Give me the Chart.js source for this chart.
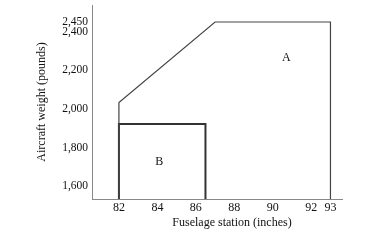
<!DOCTYPE html>
<html>
<head>
<meta charset="utf-8">
<script src="https://cdn.jsdelivr.net/npm/chart.js@4/dist/chart.umd.min.js"></script>
<style>
html, body { margin: 0; padding: 0; background: #fff; }
#wrap { width: 387px; height: 245px; }
</style>
</head>
<body>
<div id="wrap"><canvas id="chart"></canvas></div>
<script>
const xTicks = [82, 84, 86, 88, 90, 92, 93]
const yTicks = [1600, 1800, 2000, 2200, 2400, 2450]

// envelope outlines (station, weight)
const envA = [
    { x: 82, y: 1534 }, { x: 82, y: 2033 }, { x: 87, y: 2450 }, { x: 93, y: 2450 }, { x: 93, y: 1534 }
]
const envB = [
    { x: 82, y: 1534 }, { x: 82, y: 1922 }, { x: 86.5, y: 1922 }, { x: 86.5, y: 1534 }
]

const areaNames = ['A', 'B']
const areaX = [90.7, 84.1]
const areaY = [2262, 1726]

const serif = '"Liberation Serif", "Times New Roman", serif'

const labels = {
    id: 'labels',
    afterDatasetsDraw(chart) {
        const { ctx, chartArea, scales: { x, y } } = chart
        ctx.save()
        ctx.fillStyle = '#111'
        ctx.font = '12px ' + serif
        ctx.textAlign = 'center'
        ctx.textBaseline = 'middle'
        areaNames.forEach((t, i) => {
            ctx.fillText(t, x.getPixelForValue(areaX[i]), y.getPixelForValue(areaY[i]))
        })
        // x axis title sits a bit right of the plot centre in the original
        ctx.fillText('Fuselage station (inches)', (chartArea.left + chartArea.right) / 2 + 15, 223)
        ctx.restore()
    }
}

new Chart(document.getElementById('chart'), {
    type: 'line',
    data: {
        datasets: [{
            label: 'A',
            data: envA,
            borderColor: '#444',
            borderWidth: 1.2,
            pointRadius: 0,
            fill: false,
            clip: false
        }, {
            label: 'B',
            data: envB,
            borderColor: '#333',
            borderWidth: 2,
            pointRadius: 0,
            fill: false,
            clip: false
        }]
    },
    options: {
        responsive: true,
        maintainAspectRatio: false,
        animation: false,
        layout: { padding: { top: 5, right: 45, left: 0, bottom: 0 } },
        plugins: { legend: { display: false }, tooltip: { enabled: false } },
        scales: {
            x: {
                type: 'linear',
                min: 80.6,
                max: 93.6,
                afterBuildTicks: s => { s.ticks = xTicks.map(v => ({ value: v })) },
                afterFit: s => { s.height = 46; s.paddingLeft = 0; s.paddingRight = 0 },
                grid: { display: false, drawTicks: false },
                border: { display: true, color: '#888', width: 1 },
                ticks: { color: '#111', padding: 2, font: { family: serif, size: 12 } }
            },
            y: {
                type: 'linear',
                min: 1534,
                max: 2538,
                afterBuildTicks: s => { s.ticks = yTicks.map(v => ({ value: v })) },
                afterFit: s => { s.width = 92; s.paddingTop = 0; s.paddingBottom = 0 },
                grid: { display: false, drawTicks: false },
                border: { display: true, color: '#888', width: 1 },
                ticks: {
                    color: '#111',
                    padding: 4,
                    font: { family: serif, size: 11.5 },
                    callback: v => v.toLocaleString('en-US')
                },
                title: {
                    display: true,
                    text: 'Aircraft weight (pounds)',
                    color: '#111',
                    font: { family: serif, size: 12 },
                    padding: { top: 35, bottom: 0 }
                }
            }
        }
    },
    plugins: [labels]
})
</script>
</body>
</html>
